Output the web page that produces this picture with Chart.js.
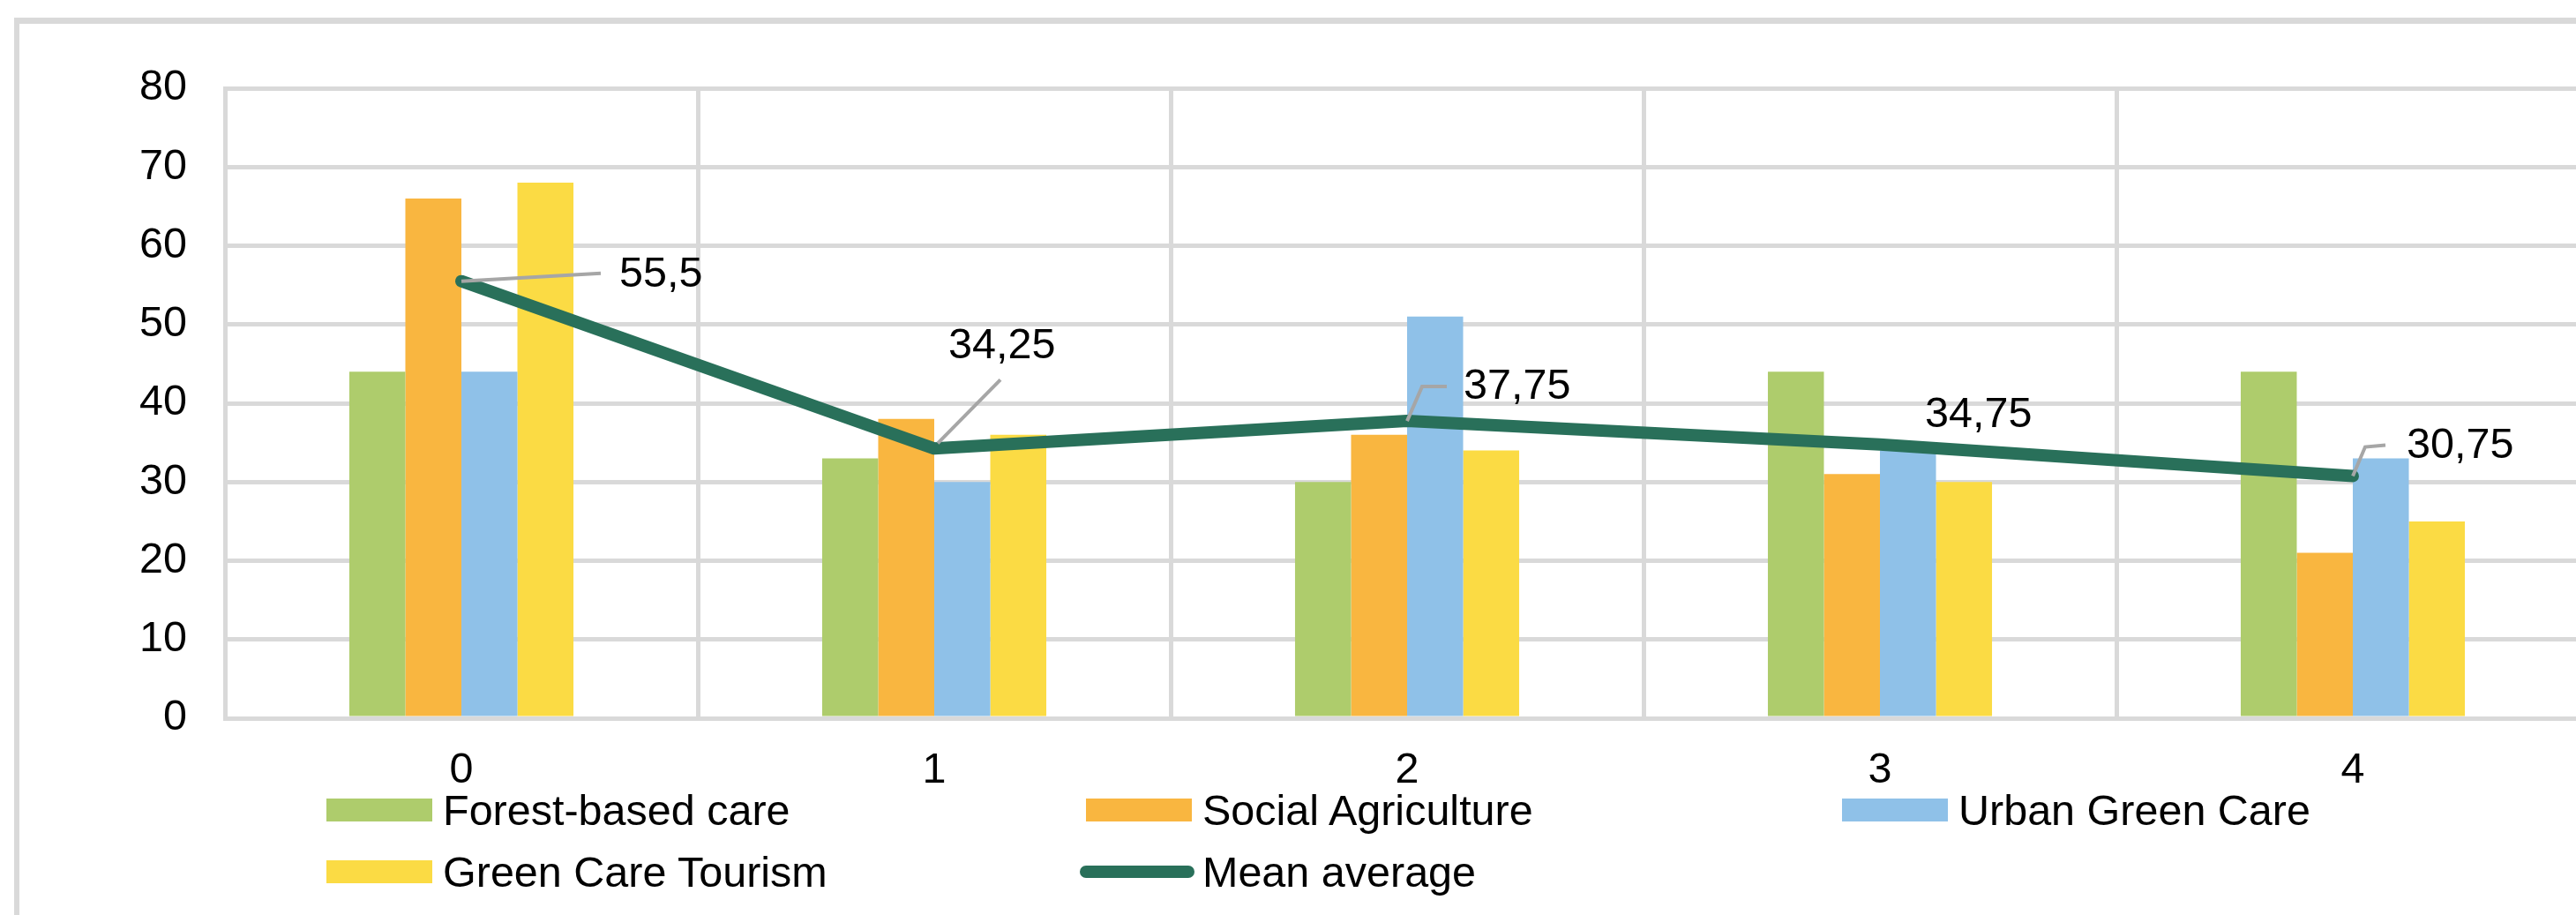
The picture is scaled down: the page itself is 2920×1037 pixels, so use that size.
<!DOCTYPE html>
<html>
<head>
<meta charset="utf-8">
<script src="https://cdn.jsdelivr.net/npm/chart.js@4/dist/chart.umd.min.js"></script>
<style>
  html, body { margin: 0; padding: 0; background: #fff; overflow: hidden; }
  body { width: 2920px; height: 1037px; position: relative; font-family: "Liberation Sans", Arial, sans-serif; }
  #frame { position: absolute; left: 16px; top: 20px; width: 3000px; height: 1100px;
           border-top: 7px solid #d9d9d9; border-left: 6px solid #d9d9d9; }
  #wrap { position: absolute; left: 0; top: 0; width: 2945px; height: 1037px; }
  .legend-item { position: absolute; height: 60px; display: flex; align-items: center;
                 font-size: 48.5px; color: #000; white-space: nowrap; }
  .legend-item .swatch { width: 120px; height: 26px; margin-right: 12px; }
  .legend-item .swatch.line { width: 130px; height: 14px; border-radius: 7px; margin-left: -7px; margin-right: 9px; }
</style>
</head>
<body>
<div id="frame"></div>
<div id="wrap"><canvas id="chart"></canvas></div>
<div id="legend"></div>
<script>
const categories = ['0', '1', '2', '3', '4'];
const forestBasedCare = [44, 33, 30, 44, 44];
const socialAgriculture = [66, 38, 36, 31, 21];
const urbanGreenCare = [44, 30, 51, 34, 33];
const greenCareTourism = [68, 36, 34, 30, 25];
const meanAverage = [55.5, 34.25, 37.75, 34.75, 30.75];

const FONT = '"Liberation Sans", Arial, sans-serif';
const GRID = '#d9d9d9';

// label placement for the mean line, relative to each point (text left, text middle, leader path)
const labelOffsets = [
  { tx: 179, ty: -7, leader: [[0, 0], [158, -9]] },
  { tx: 16, ty: -116, leader: [[4, -6], [75, -78]] },
  { tx: 64, ty: -38, leader: [[0, 0], [17, -39], [45, -39]] },
  { tx: 51, ty: -33, leader: null },
  { tx: 61, ty: -34, leader: [[0, 0], [14, -33], [37, -35]] }
];

const leaderLabels = {
  id: 'leaderLabels',
  afterDatasetsDraw(chart, args, opts) {
    const meta = chart.getDatasetMeta(opts.datasetIndex);
    const values = chart.data.datasets[opts.datasetIndex].data;
    const ctx = chart.ctx;
    ctx.save();
    meta.data.forEach((pt, i) => {
      const o = opts.offsets[i];
      if (o.leader) {
        ctx.beginPath();
        o.leader.forEach(([dx, dy], k) => {
          if (k === 0) ctx.moveTo(pt.x + dx, pt.y + dy);
          else ctx.lineTo(pt.x + dx, pt.y + dy);
        });
        ctx.strokeStyle = '#a6a6a6';
        ctx.lineWidth = 4;
        ctx.stroke();
      }
      ctx.font = '48.5px ' + FONT;
      ctx.fillStyle = '#000';
      ctx.textAlign = 'left';
      ctx.textBaseline = 'middle';
      ctx.fillText(String(values[i]).replace('.', ','), pt.x + o.tx, pt.y + o.ty);
    });
    ctx.restore();
  }
};

const datasets = [
  { type: 'line', label: 'Mean average', data: meanAverage, borderColor: '#29705a', borderWidth: 14,
    pointRadius: 0, tension: 0, borderCapStyle: 'round', borderJoinStyle: 'round', order: 0 },
  { label: 'Forest-based care', data: forestBasedCare, backgroundColor: '#aecc6c', order: 1 },
  { label: 'Social Agriculture', data: socialAgriculture, backgroundColor: '#f9b640', order: 1 },
  { label: 'Urban Green Care', data: urbanGreenCare, backgroundColor: '#8fc1e8', order: 1 },
  { label: 'Green Care Tourism', data: greenCareTourism, backgroundColor: '#fbdb44', order: 1 }
];

new Chart(document.getElementById('chart'), {
  type: 'bar',
  data: { labels: categories, datasets: datasets },
  plugins: [leaderLabels],
  options: {
    responsive: true,
    maintainAspectRatio: false,
    devicePixelRatio: 1,
    animation: false,
    datasets: { bar: { categoryPercentage: 0.474, barPercentage: 1 } },
    layout: { padding: { top: 100, right: 10, left: 0, bottom: 0 } },
    scales: {
      x: {
        grid: { color: GRID, lineWidth: 5, offset: true, drawTicks: false },
        border: { color: GRID, width: 5 },
        ticks: { color: '#000', font: { family: FONT, size: 48.5 }, padding: 31 },
        afterFit(s) { s.height = 223; }
      },
      y: {
        min: 0,
        max: 80,
        grid: { color: GRID, lineWidth: 5, drawTicks: false },
        border: { color: GRID, width: 5 },
        ticks: { stepSize: 10, color: '#000', font: { family: FONT, size: 48.5 }, padding: 43 },
        afterFit(s) { s.width = 255; }
      }
    },
    plugins: {
      legend: { display: false },
      tooltip: { enabled: false },
      leaderLabels: { datasetIndex: 0, offsets: labelOffsets }
    }
  }
});

// legend laid out in Excel's grid: three columns, two rows
const legendOrder = [1, 2, 3, 4, 0];
const colX = [370, 1231, 2088];
const rowY = [918, 988];
const legend = document.getElementById('legend');
legendOrder.forEach((di, k) => {
  const ds = datasets[di];
  const item = document.createElement('div');
  item.className = 'legend-item';
  item.style.left = colX[k % 3] + 'px';
  item.style.top = (rowY[Math.floor(k / 3)] - 30) + 'px';
  const sw = document.createElement('span');
  sw.className = 'swatch' + (ds.type === 'line' ? ' line' : '');
  sw.style.background = ds.type === 'line' ? ds.borderColor : ds.backgroundColor;
  item.appendChild(sw);
  item.appendChild(document.createTextNode(ds.label));
  legend.appendChild(item);
});
</script>
</body>
</html>
